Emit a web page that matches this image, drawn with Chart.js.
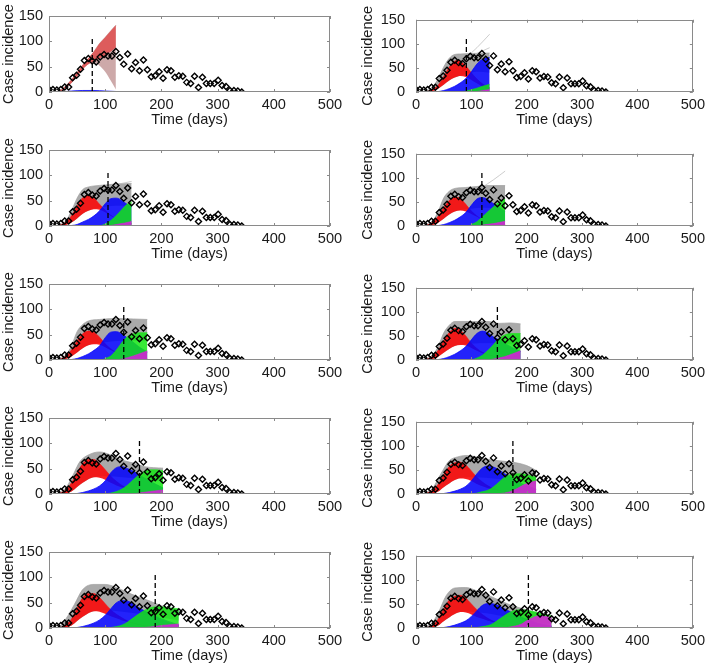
<!DOCTYPE html>
<html lang="en">
<head>
<meta charset="UTF-8">
<title>Case incidence forecasts</title>
<script src="https://cdn.jsdelivr.net/npm/chart.js"></script>
<style>
  body { margin: 0; background: #fff; }
  #fig { position: relative; width: 709px; height: 671px; }
  .cell { position: absolute; }
</style>
</head>
<body>
<div id="fig"></div>
<script>
// observed weekly incidence
const days = [0,7,14,21,28,35,42,49,56,63,70,77,84,91,98,105,112,119,126,133,140,147,154,161,168,175,182,189,196,203,210,217,224,231,238,245,252,259,266,273,280,287,294,301,308,315,322,329,336,343];
const cases = [5,5,4,5,10,10,28,33,45,62,66,61,59,69,74,71,71,80,68,55,75,46,58,42,63,44,30,32,40,27,44,42,29,32,31,19,17,31,9,29,17,17,17,23,13,11,3,3,2,0];

// forecast start (dashed line) per panel
const cutDays = [77,91,105,119,133,147,161,175,189,203];
const xTicks = [0,100,200,300,400,500];
const yTicks = [0,50,100,150];

// ensemble envelopes, [day, value], one list per panel
const grayHi = [
  [[10,0],[20,3],[30,12],[40,24],[50,38],[60,53],[70,66],[77,75],[85,88],[90,96],[100,108],[110,121],[119,132]],
  [[10,0],[20,3],[30,10],[40,28],[50,52],[60,70],[70,78],[80,79],[100,80],[133,81]],
  [[10,0],[20,3],[30,10],[40,30],[50,55],[60,72],[70,77],[80,79],[100,81],[120,83],[147,84]],
  [[10,0],[20,3],[30,10],[40,30],[50,58],[60,72],[70,78],[90,80],[110,82],[130,84],[161,84]],
  [[10,0],[20,3],[30,10],[40,28],[50,56],[60,70],[70,77],[90,80],[120,82],[150,81],[175,80]],
  [[10,0],[20,3],[30,10],[40,28],[50,56],[60,72],[70,80],[100,80],[130,80],[150,76],[170,77],[189,75]],
  [[10,0],[20,3],[30,12],[40,31],[55,64],[70,77],[90,83],[110,77],[130,67],[150,61],[170,54],[203,51]],
  [[10,0],[20,3],[30,12],[45,42],[60,69],[75,77],[90,80],[110,77],[130,72],[150,69],[175,66],[200,59],[217,49]],
  [[10,0],[20,4],[30,18],[45,46],[60,76],[80,86],[100,86],[120,80],[140,70],[160,61],[180,53],[200,44],[231,34]],
  [[10,0],[20,3],[30,12],[40,31],[55,68],[70,83],[90,84],[110,77],[130,68],[150,58],[170,48],[190,41],[210,34],[245,21]]
];
const grayLo = [
  [[10,0],[20,1],[30,8],[40,18],[50,31],[60,45],[70,55],[77,57],[85,56],[90,52],[100,40],[110,22],[119,5]],
  [[10,0],[20,0],[30,2],[40,7],[50,15],[60,24],[70,30],[80,34],[91,38],[110,42],[133,40]],
  [[10,0],[20,0],[30,2],[40,7],[50,15],[60,24],[70,30],[80,34],[100,38],[120,40],[147,40]],
  [[10,0],[20,0],[30,2],[40,7],[50,15],[60,24],[70,30],[80,33],[100,36],[120,38],[161,36]],
  [[10,0],[20,0],[30,2],[40,7],[50,15],[60,23],[70,29],[80,32],[100,35],[130,38],[175,38]],
  [[10,0],[20,0],[30,2],[40,7],[50,15],[60,23],[70,29],[80,32],[100,34],[130,35],[160,34],[189,30]],
  [[10,0],[20,0],[30,1],[40,5],[50,14],[60,22],[70,29],[80,33],[100,35],[130,33],[160,30],[203,25]],
  [[10,0],[20,0],[30,1],[40,5],[50,14],[60,22],[70,29],[80,33],[100,35],[130,33],[160,30],[190,26],[217,22]],
  [[10,0],[20,0],[30,1],[40,5],[50,14],[60,22],[70,29],[80,33],[100,35],[130,32],[160,28],[190,22],[231,15]],
  [[10,0],[20,0],[30,1],[40,5],[50,14],[60,22],[70,29],[80,33],[100,34],[130,30],[160,24],[190,18],[220,12],[245,8]]
];
const redHi = [
  [[10,0],[20,3],[30,12],[40,24],[50,38],[60,53],[70,66],[77,75],[85,87],[90,95],[100,107],[110,120],[119,131]],
  [[15,0],[20,1],[30,5],[40,14],[50,32],[60,52],[70,64],[75,66],[80,64],[90,54],[100,40],[110,27],[120,17],[133,9]],
  [[15,0],[20,2],[30,8],[40,20],[50,40],[60,56],[70,60],[80,55],[90,43],[100,31],[110,21],[120,14],[130,9],[147,4]],
  [[15,0],[20,2],[30,8],[40,20],[50,38],[60,53],[70,60],[80,57],[90,45],[100,31],[110,21],[120,13],[140,6],[161,3]],
  [[15,0],[20,2],[30,8],[40,20],[50,38],[60,52],[70,57],[80,55],[90,45],[100,32],[110,22],[120,15],[140,7],[175,2]],
  [[15,0],[20,2],[30,8],[40,20],[50,40],[60,57],[70,66],[80,62],[90,50],[100,35],[110,24],[120,16],[140,8],[160,4],[189,1]],
  [[15,0],[20,2],[30,8],[40,22],[50,42],[60,60],[70,68],[80,68],[90,60],[100,48],[110,35],[120,25],[130,17],[150,8],[170,4],[203,1]],
  [[15,0],[20,2],[30,8],[40,20],[50,40],[60,57],[70,65],[80,66],[90,60],[100,48],[110,35],[120,25],[130,17],[150,8],[170,4],[217,1]],
  [[15,0],[20,1],[30,6],[40,18],[50,40],[60,60],[70,68],[80,68],[90,60],[100,48],[110,36],[120,27],[130,20],[140,14],[160,7],[180,3],[231,0]],
  [[15,0],[20,1],[30,6],[40,18],[50,40],[60,58],[70,66],[80,68],[90,62],[100,50],[110,38],[120,28],[130,20],[140,14],[160,7],[180,3],[245,0]]
];
const redLo = [
  [[10,0],[20,1],[30,8],[40,18],[50,31],[60,45],[70,55],[77,58],[85,63],[90,66],[100,72],[110,80],[119,88]],
  [[15,0],[20,0],[30,2],[40,7],[50,15],[60,24],[70,30],[80,33],[90,31],[100,25],[110,18],[120,11],[133,5]],
  [[15,0],[20,0],[30,2],[40,7],[50,15],[60,24],[70,30],[80,33],[90,32],[100,27],[110,20],[120,14],[130,10],[147,5]],
  [[15,0],[20,0],[30,2],[40,7],[50,15],[60,24],[70,30],[80,32],[90,30],[100,25],[110,19],[120,13],[140,6],[161,2]],
  [[15,0],[20,0],[30,2],[40,7],[50,15],[60,23],[70,29],[80,31],[90,30],[100,25],[110,19],[120,14],[140,6],[175,1]],
  [[15,0],[20,0],[30,2],[40,7],[50,15],[60,23],[70,29],[80,31],[90,30],[100,25],[110,19],[120,14],[140,7],[160,3],[189,1]],
  [[15,0],[20,0],[30,1],[40,5],[50,14],[60,22],[70,29],[80,33],[90,32],[100,28],[110,22],[120,17],[130,13],[140,10],[160,5],[180,2],[203,0]],
  [[15,0],[20,0],[30,1],[40,5],[50,14],[60,22],[70,29],[80,32],[90,31],[100,27],[110,21],[120,16],[130,12],[140,9],[160,4],[180,2],[217,0]],
  [[15,0],[20,0],[30,1],[40,5],[50,14],[60,22],[70,29],[80,33],[90,32],[100,28],[110,23],[120,19],[130,15],[140,12],[160,6],[180,3],[231,0]],
  [[15,0],[20,0],[30,1],[40,5],[50,14],[60,22],[70,29],[80,33],[90,32],[100,28],[110,23],[120,19],[130,15],[140,12],[160,6],[180,3],[245,0]]
];
const blueHi = [
  [[20,0],[40,2],[60,3],[80,3],[100,2],[119,1]],
  [[30,0],[40,1],[50,3],[60,7],[70,12],[80,19],[90,28],[100,42],[110,58],[120,68],[133,72]],
  [[30,0],[40,1],[50,3],[60,8],[70,13],[80,20],[90,30],[100,44],[110,54],[120,55],[130,50],[140,42],[147,38]],
  [[30,0],[40,1],[50,3],[60,7],[70,12],[80,19],[90,28],[100,43],[110,56],[120,59],[130,55],[140,46],[150,38],[161,31]],
  [[30,0],[40,1],[50,3],[60,7],[70,12],[80,19],[90,28],[100,44],[110,55],[120,56],[130,51],[140,43],[150,35],[160,26],[175,16]],
  [[30,0],[40,1],[50,3],[60,7],[70,12],[80,19],[90,28],[100,42],[110,55],[120,60],[130,56],[140,48],[160,35],[175,25],[189,18]],
  [[40,0],[50,1],[60,3],[70,6],[80,10],[90,16],[100,26],[110,42],[120,52],[130,54],[140,50],[150,45],[160,38],[180,25],[203,12]],
  [[40,0],[50,1],[60,3],[70,6],[80,10],[90,16],[100,27],[110,42],[120,54],[130,58],[140,56],[150,50],[160,42],[175,32],[190,22],[217,10]],
  [[40,0],[50,1],[60,3],[70,6],[80,10],[90,16],[100,25],[110,38],[120,50],[130,54],[140,53],[150,48],[160,40],[180,28],[200,18],[231,6]],
  [[40,0],[50,1],[60,3],[70,6],[80,10],[90,15],[100,24],[110,36],[120,47],[130,51],[140,50],[150,46],[160,40],[180,28],[200,18],[220,10],[245,4]]
];
const greenHi = [
  [],
  [[80,0],[90,2],[100,5],[110,8],[120,12],[133,16]],
  [[90,0],[100,4],[110,11],[120,21],[130,33],[140,44],[147,48]],
  [[95,0],[100,3],[110,9],[120,19],[130,30],[140,40],[150,50],[161,56]],
  [[95,0],[100,3],[110,8],[120,20],[130,35],[140,47],[150,52],[160,54],[175,54]],
  [[100,0],[110,4],[120,10],[130,20],[140,32],[150,45],[160,52],[170,55],[189,55]],
  [[100,0],[110,2],[120,5],[130,10],[140,18],[150,28],[160,38],[170,45],[180,48],[190,48],[203,46]],
  [[100,0],[110,2],[120,5],[130,8],[140,15],[150,25],[160,35],[170,40],[180,42],[190,42],[200,40],[217,35]],
  [[100,0],[110,1],[120,3],[130,6],[140,12],[150,20],[160,28],[170,35],[180,40],[190,42],[200,42],[215,40],[231,38]],
  [[100,0],[110,1],[120,3],[130,5],[140,10],[150,18],[160,26],[170,33],[180,37],[190,38],[200,37],[220,32],[245,25]]
];
const magentaHi = [
  [],
  [[100,0],[110,1],[120,3],[133,5]],
  [[105,0],[120,3],[135,6],[147,9]],
  [[110,0],[120,2],[140,5],[161,10]],
  [[120,0],[130,2],[150,8],[165,14],[175,18]],
  [[130,0],[140,2],[160,7],[175,13],[189,19]],
  [[150,0],[160,2],[180,5],[203,8]],
  [[140,0],[160,2],[175,7],[190,16],[200,22],[217,27]],
  [[160,0],[180,2],[200,5],[231,8]],
  [[160,0],[170,2],[190,8],[200,15],[210,21],[220,25],[235,24],[245,22]]
];
// stray trajectories above the gray cloud
const outliers = [
  [],
  [[[91,72],[110,92],[133,120]], [[91,70],[110,80],[133,92]]],
  [[[105,78],[125,83],[147,88]]],
  [[[119,80],[140,96],[161,114]]],
  [],[],[],[],[],[]
];

const FONT = 'Liberation Sans, Arial, Helvetica, sans-serif';
const pts = a => a.map(([x, y]) => ({x, y}));

const boxPlugin = {
  id: 'box',
  afterDraw(chart) {
    const {ctx, chartArea: a, scales: {x, y}} = chart;
    ctx.save();
    ctx.strokeStyle = '#8a8a8a';
    ctx.lineWidth = 1;
    ctx.strokeRect(Math.round(a.left) + 0.5, Math.round(a.top) + 0.5,
      Math.round(a.right - a.left) - 1, Math.round(a.bottom - a.top) - 1);
    ctx.beginPath();
    x.ticks.forEach(t => {
      const px = Math.round(x.getPixelForValue(t.value)) + 0.5;
      ctx.moveTo(px, a.bottom); ctx.lineTo(px, a.bottom - 3);
      ctx.moveTo(px, a.top); ctx.lineTo(px, a.top + 3);
    });
    y.ticks.forEach(t => {
      const py = Math.round(y.getPixelForValue(t.value)) + 0.5;
      ctx.moveTo(a.left, py); ctx.lineTo(a.left + 3, py);
      ctx.moveTo(a.right, py); ctx.lineTo(a.right - 3, py);
    });
    ctx.stroke();
    ctx.restore();
  }
};

function makePanel(p) {
  const col = p % 2, row = Math.floor(p / 2);
  const w = col ? 355 : 354, h = 134;
  const cell = document.createElement('div');
  cell.className = 'cell';
  cell.style.left = (col ? 354 : 0) + 'px';
  cell.style.top = (row * 134) + 'px';
  const cv = document.createElement('canvas');
  cv.width = w; cv.height = h;
  cv.style.width = w + 'px'; cv.style.height = h + 'px';
  cell.appendChild(cv);
  document.getElementById('fig').appendChild(cell);

  const ds = [];
  const add = d => { ds.push(d); return ds.length - 1; };
  const common = {pointRadius: 0, cubicInterpolationMode: 'monotone'};

  // observed data
  add({data: days.map((d, i) => ({x: d, y: cases[i]})), showLine: false,
       pointStyle: 'rectRot', pointRadius: 3, pointBorderColor: '#000',
       pointBackgroundColor: 'rgba(0,0,0,0)', pointBorderWidth: 1.4, order: 0});
  // forecast start
  add({data: [{x: cutDays[p], y: 0}, {x: cutDays[p], y: 110}], borderColor: '#000',
       borderWidth: 1.3, borderDash: [5, 3], pointRadius: 0, order: 1});
  outliers[p].forEach(l => add({...common, data: pts(l), borderColor: 'rgba(185,185,185,0.9)',
       borderWidth: 0.8, fill: false, order: 2}));
  if (magentaHi[p].length) add({...common, data: pts(magentaHi[p]), borderColor: 'rgba(230,20,230,0.9)',
       borderWidth: 0.6, backgroundColor: 'rgba(230,20,230,0.82)', fill: 'origin', order: 3});
  if (greenHi[p].length) add({...common, data: pts(greenHi[p]), borderColor: 'rgba(20,230,20,0.9)',
       borderWidth: 0.6, backgroundColor: 'rgba(20,230,20,0.85)', fill: 'origin', order: 4});
  add({...common, data: pts(blueHi[p]), borderColor: 'rgba(5,5,250,0.95)',
       borderWidth: 0.8, backgroundColor: 'rgba(5,5,250,0.88)', fill: 'origin', order: 5});
  const redColor = p === 0 ? 'rgba(225,70,70,0.78)' : 'rgba(250,10,10,0.9)';
  const rLo = add({...common, data: pts(redLo[p]), borderWidth: 0, borderColor: redColor, fill: false, order: 6});
  add({...common, data: pts(redHi[p]), borderWidth: 0.6, borderColor: redColor,
       backgroundColor: redColor, fill: {target: rLo}, order: 6});
  const grayColor = p === 0 ? 'rgba(200,160,160,0.9)' : 'rgba(155,155,155,0.85)';
  const gLo = add({...common, data: pts(grayLo[p]), borderWidth: 0, borderColor: grayColor, fill: false, order: 7});
  add({...common, data: pts(grayHi[p]), borderWidth: 0.8, borderColor: grayColor,
       backgroundColor: grayColor, fill: {target: gLo}, order: 7});

  new Chart(cv, {
    type: 'line',
    data: {datasets: ds},
    options: {
      responsive: false,
      animation: false,
      events: [],
      layout: {padding: {top: 16, right: col ? 12 : 24, left: 0, bottom: 0}},
      plugins: {legend: {display: false}, tooltip: {enabled: false}},
      scales: {
        x: {
          type: 'linear', min: 0, max: 500,
          afterBuildTicks: s => { s.ticks = xTicks.map(v => ({value: v})); },
          afterFit: s => { s.height = 42; },
          grid: {display: false, drawTicks: false}, border: {display: false},
          ticks: {padding: 4, color: '#1a1a1a', font: {family: FONT, size: 14.6}, maxRotation: 0},
          title: {display: true, text: 'Time (days)', color: '#1a1a1a',
                  font: {family: FONT, size: 14.6}, padding: {top: 0, bottom: 5}}
        },
        y: {
          type: 'linear', min: 0, max: 150,
          afterBuildTicks: s => { s.ticks = yTicks.map(v => ({value: v})); },
          afterFit: s => { s.width = col ? 62 : 49; },
          grid: {display: false, drawTicks: false}, border: {display: false},
          ticks: {padding: col ? 11 : 6, color: '#1a1a1a', font: {family: FONT, size: 14.6}},
          title: {display: true, text: 'Case incidence', color: '#1a1a1a',
                  font: {family: FONT, size: 14.6}, padding: {top: col ? 5 : 0, bottom: 0}}
        }
      }
    },
    plugins: [boxPlugin]
  });
}

for (let p = 0; p < 10; p++) makePanel(p);
</script>
</body>
</html>
